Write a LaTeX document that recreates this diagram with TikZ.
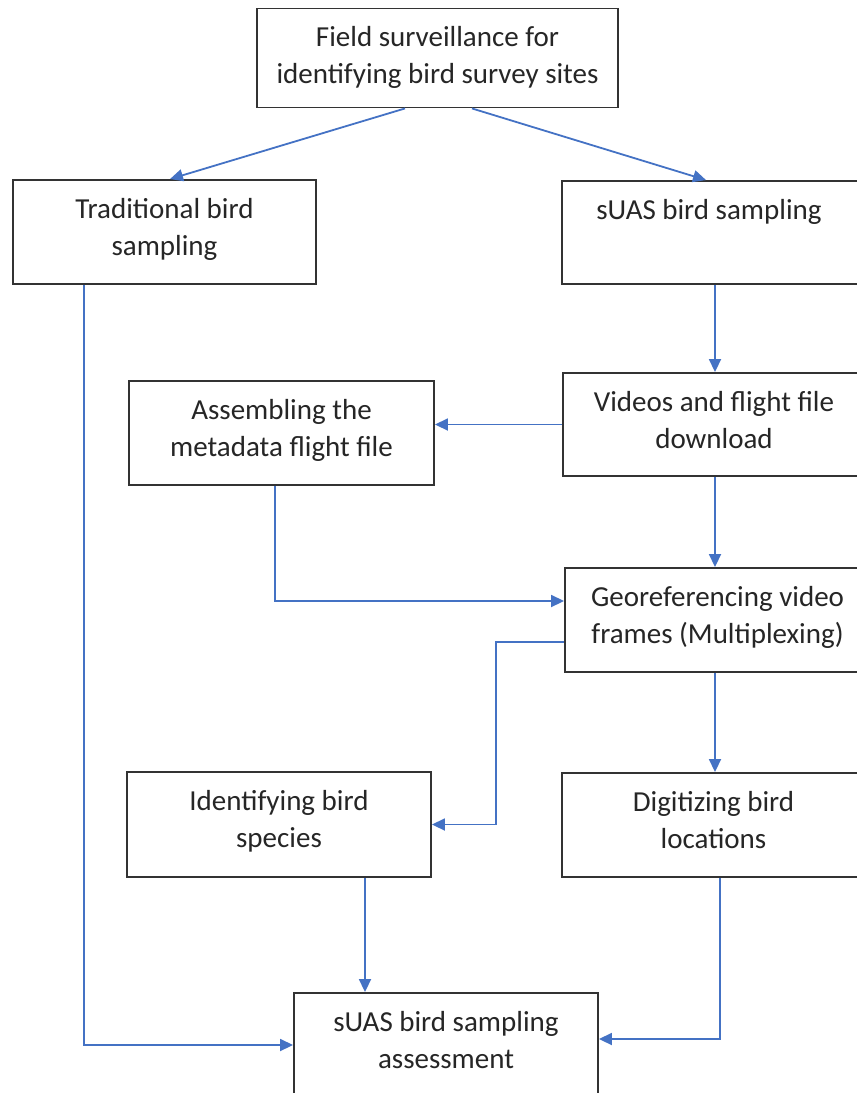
\documentclass[tikz,border=0pt]{standalone}
\usepackage{fontspec}
\setmainfont{Carlito}
\usetikzlibrary{arrows.meta}
\definecolor{flowblue}{HTML}{4472C4}
\definecolor{boxline}{HTML}{333333}
\begin{document}
\begin{tikzpicture}[x=1pt,y=-1pt,
  box/.style={draw=boxline,line width=1.9pt,fill=white,inner sep=0pt,
    minimum width=#1},
  box/.default=304pt,
  txt/.style={inner sep=0pt,anchor=north,align=center,
    font=\fontsize{29}{37}\selectfont,text=black!85},
  flow/.style={draw=flowblue,line width=1.8pt,
    -{Triangle[length=13pt,width=12pt]}}]
\useasboundingbox (0,0) rectangle (857,1093);
\begin{scope}
\clip (0,0) rectangle (857,1093);
% boxes
\node[box=361pt,minimum height=99pt] (b1) at (437.5,58) {};
\node[box=303pt,minimum height=104pt] (b2) at (164.5,232) {};
\node[box=298pt,minimum height=103pt] (b3) at (711,232.5) {};
\node[box=302pt,minimum height=103pt] (b4) at (714,424.5) {};
\node[box=305pt,minimum height=104pt] (b5) at (281.5,433) {};
\node[box=305pt,minimum height=104pt] (b6) at (717.5,620) {};
\node[box=304pt,minimum height=105pt] (b7) at (279,824.5) {};
\node[box=303pt,minimum height=104pt] (b8) at (713.5,825) {};
\node[box=304pt,minimum height=104pt] (b9) at (446,1045) {};
% texts
\node[txt] (t1) at ([yshift=-13pt]b1.north) {\strut Field surveillance for\\identifying bird survey sites};
\node[txt] (t2) at ([yshift=-13pt]b2.north) {\strut Traditional bird\\sampling};
\node[txt] (t3) at ([yshift=-13pt,xshift=-2pt]b3.north) {\strut sUAS bird sampling};
\node[txt] (t4) at ([yshift=-13pt]b4.north) {\strut Videos and flight file\\download};
\node[txt] (t5) at ([yshift=-13pt]b5.north) {\strut Assembling the\\metadata flight file};
\node[txt] (t6) at ([yshift=-13pt]b6.north) {\strut Georeferencing video\\frames (Multiplexing)};
\node[txt] (t7) at ([yshift=-13pt]b7.north) {\strut Identifying bird\\species};
\node[txt] (t8) at ([yshift=-13pt]b8.north) {\strut Digitizing bird\\locations};
\node[txt] (t9) at ([yshift=-13pt]b9.north) {\strut sUAS bird sampling\\assessment};
% connectors
\draw[flow] ([xshift=-32.5pt]b1.south) -- ([xshift=5.5pt]b2.north);
\draw[flow] ([xshift=34.5pt]b1.south) -- ([xshift=-5pt]b3.north);
\draw[flow] ([xshift=4pt]b3.south) -- ([xshift=4pt]b3.south |- b4.north);
\draw[flow] (b4.west) -- (b4.west -| b5.east);
\draw[flow] ([xshift=1pt]b4.south) -- ([xshift=1pt]b4.south |- b6.north);
\draw[flow] ([xshift=-6.5pt]b5.south) |- ([yshift=19pt]b6.west);
\draw[flow] ([yshift=-22pt]b6.west) -- ++(-68,0) |- (b7.east);
\draw[flow] ([xshift=-2.5pt]b6.south) -- ([xshift=-2.5pt]b6.south |- b8.north);
\draw[flow] ([xshift=86pt]b7.south) -- ([xshift=86pt]b7.south |- b9.north);
\draw[flow] ([xshift=-80.5pt]b2.south) |- (b9.west);
\draw[flow] ([xshift=6.5pt]b8.south) |- ([yshift=6pt]b9.east);
\end{scope}
\end{tikzpicture}
\end{document}
